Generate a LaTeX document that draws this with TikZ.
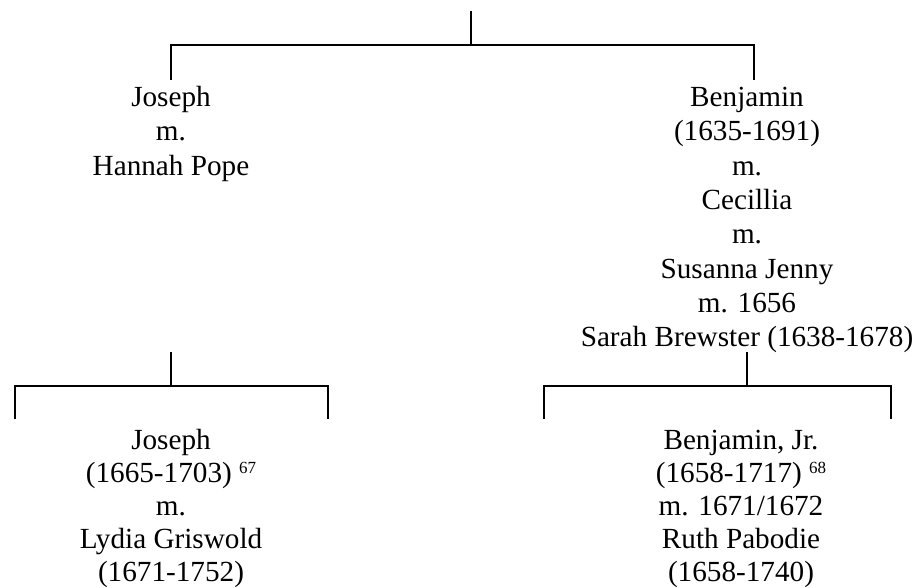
\documentclass[tikz,border=0pt]{standalone}
\usepackage{fontspec}
\setmainfont{Liberation Serif}
\newcommand\supnum[1]{\raisebox{9pt}{\fontsize{17}{17}\selectfont #1}}
\begin{document}
\begin{tikzpicture}[x=1pt,y=-1pt,
  conn/.style={line width=2pt, line join=miter},
  rowone/.style={anchor=base, inner sep=0pt, align=center, font=\fontsize{29.2}{34.3}\selectfont},
  rowtwo/.style={anchor=base, inner sep=0pt, align=center, font=\fontsize{29.2}{33}\selectfont}]
\useasboundingbox (0,0) rectangle (917,588);

% first generation (anchor = baseline of the last line)
\node[rowone] (joseph) at (171,175.1) {Joseph\\m.\\Hannah Pope};
\node[rowone] (benjamin) at (747,346.6) {Benjamin\\(1635-1691)\\m.\\Cecillia\\m.\\Susanna Jenny\\m. 1656\\Sarah Brewster (1638-1678)};

% second generation
\node[rowtwo] (josephjr) at (171,581) {Joseph\\(1665-1703) \supnum{67}\\m.\\Lydia Griswold\\(1671-1752)};
\node[rowtwo] (benjaminjr) at (741,581) {Benjamin, Jr.\\(1658-1717) \supnum{68}\\m. 1671/1672\\Ruth Pabodie\\(1658-1740)};

% top bracket
\coordinate (top0) at (471,11);
\coordinate (mid0) at (471,45);
\coordinate (l0) at (171,45);
\coordinate (r0) at (754,45);
\coordinate (lb0) at (171,80);
\coordinate (rb0) at (754,80);
\draw[conn] (top0) -- (mid0);
\draw[conn] (lb0) -- (l0) -- (r0) -- (rb0);

% lower left bracket
\coordinate (top1) at (171,352);
\coordinate (mid1) at (171,386);
\coordinate (l1) at (15,386);
\coordinate (r1) at (328,386);
\coordinate (lb1) at (15,419);
\coordinate (rb1) at (328,419);
\draw[conn] (top1) -- (mid1);
\draw[conn] (lb1) -- (l1) -- (r1) -- (rb1);

% lower right bracket
\coordinate (top2) at (747,352);
\coordinate (mid2) at (747,386);
\coordinate (l2) at (544,386);
\coordinate (r2) at (891,386);
\coordinate (lb2) at (544,419);
\coordinate (rb2) at (891,419);
\draw[conn] (top2) -- (mid2);
\draw[conn] (lb2) -- (l2) -- (r2) -- (rb2);
\end{tikzpicture}
\end{document}
